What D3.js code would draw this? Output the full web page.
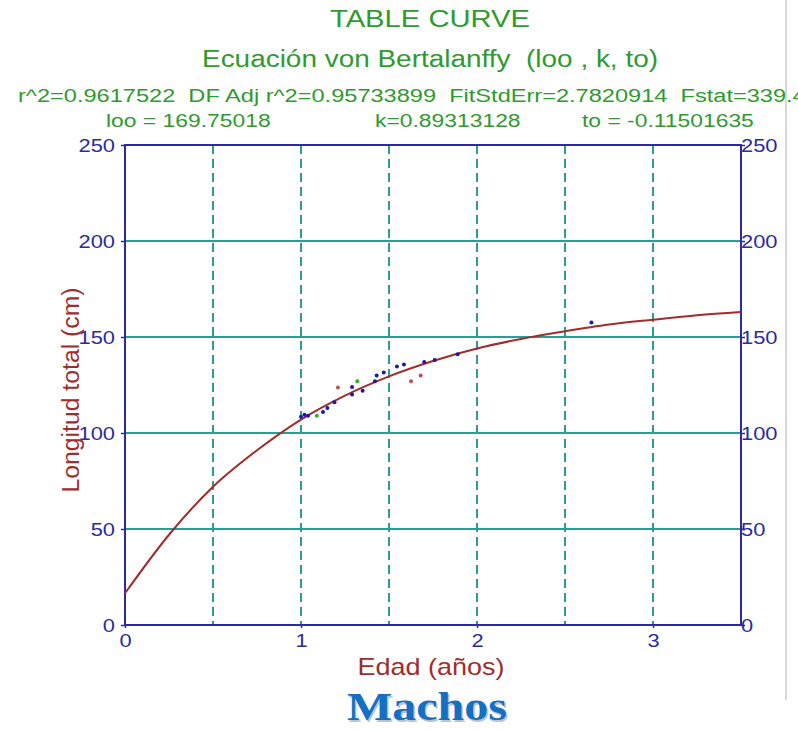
<!DOCTYPE html>
<html>
<head>
<meta charset="utf-8">
<script src="https://cdn.jsdelivr.net/npm/d3@7"></script>
<style>
  body { margin: 0; background: #fff; }
  svg { display: block; font-family: "Liberation Sans", Arial, sans-serif; }
</style>
</head>
<body>
<div id="chart"></div>
<script>
// fitted curve
const curveAge = [0, 0.25, 0.5, 0.75, 1, 1.25, 1.5, 1.75, 2, 2.25, 2.5, 2.75, 3, 3.25, 3.5];
const curveLen = [16.5, 47, 72, 91, 107, 119.5, 129.5, 137.5, 144, 149, 153, 156.5, 159, 161.3, 163];

// observed points
const blueAge = [1.0, 1.02, 1.04, 1.125, 1.15, 1.19, 1.29, 1.29, 1.35, 1.42, 1.43, 1.47, 1.545, 1.585, 1.70, 1.76, 1.89, 2.65];
const blueLen = [108.5, 109.5, 109, 111, 113, 116, 120, 124, 122, 127, 130, 131.5, 134.6, 135.7, 137, 138, 141, 157.6];
const greenAge = [1.09, 1.32];
const greenLen = [109, 127];
const redAge = [1.21, 1.625, 1.68];
const redLen = [123.7, 127, 130];

const xTicks = [0, 1, 2, 3];
const xGrid = [0.5, 1, 1.5, 2, 2.5, 3];
const yTicks = [0, 50, 100, 150, 200, 250];

const titleLines = [
    "TABLE CURVE",
    "Ecuación von Bertalanffy  (loo , k, to)"
];
const statsLine = "r^2=0.9617522  DF Adj r^2=0.95733899  FitStdErr=2.7820914  Fstat=339.45";
const paramLabels = ["loo = 169.75018", "k=0.89313128", "to = -0.11501635"];

let dimensions = {
    width: 798,
    height: 731,
    margin: { top: 145, right: 57, bottom: 106, left: 125 },
};
dimensions.boundedWidth = dimensions.width - dimensions.margin.left - dimensions.margin.right;
dimensions.boundedHeight = dimensions.height - dimensions.margin.top - dimensions.margin.bottom;

const navy = "#2b2b9e";
const teal = "#2a9d96";
const green = "#2f9a2f";
const darkRed = "#a02c2c";

// widen text horizontally, the reference font is a bit stretched
function stretch(sel, factor) {
    sel.each(function () {
        const w = this.getComputedTextLength();
        d3.select(this)
            .attr("textLength", w * factor)
            .attr("lengthAdjust", "spacingAndGlyphs");
    });
}

const root = d3.select("#chart")
    .append("svg")
    .attr("width", dimensions.width)
    .attr("height", dimensions.height);

// faint frame line on the right
root.append("line")
    .attr("x1", 786).attr("x2", 786)
    .attr("y1", 0).attr("y2", 700)
    .attr("stroke", "#d8d8d8")
    .attr("stroke-width", 2);

const svg = root.append("g")
    .attr("transform", `translate(${dimensions.margin.left}, ${dimensions.margin.top})`);

const x = d3.scaleLinear()
    .domain([0, 3.5])
    .range([0, dimensions.boundedWidth]);
const y = d3.scaleLinear()
    .domain([0, 250])
    .range([dimensions.boundedHeight, 0]);

// grid
svg.append("g")
    .selectAll("line")
    .data(yTicks.filter(d => d > 0 && d < 250))
    .join("line")
    .attr("x1", 0).attr("x2", dimensions.boundedWidth)
    .attr("y1", d => y(d)).attr("y2", d => y(d))
    .attr("stroke", teal)
    .attr("stroke-width", 2);

svg.append("g")
    .selectAll("line")
    .data(xGrid)
    .join("line")
    .attr("x1", d => x(d)).attr("x2", d => x(d))
    .attr("y1", 0).attr("y2", dimensions.boundedHeight)
    .attr("stroke", teal)
    .attr("stroke-width", 2)
    .attr("stroke-dasharray", "9,5");

// axes
const styleAxis = g => {
    g.select(".domain").remove();
    g.selectAll(".tick line").attr("stroke", navy).attr("stroke-width", 1.5);
    g.selectAll(".tick text")
        .attr("fill", navy)
        .style("font-size", "19px")
        .style("font-family", "Liberation Sans, Arial, sans-serif")
        .call(stretch, 1.15);
};

svg.append("g")
    .call(d3.axisLeft(y).tickValues(yTicks).tickSize(4).tickPadding(6))
    .call(styleAxis);
svg.append("g")
    .attr("transform", `translate(${dimensions.boundedWidth}, 0)`)
    .call(d3.axisRight(y).tickValues(yTicks).tickSize(4).tickPadding(-4))
    .call(styleAxis);
svg.append("g")
    .attr("transform", `translate(0, ${dimensions.boundedHeight})`)
    .call(d3.axisBottom(x).tickValues(xTicks).tickFormat(d3.format("d")).tickSize(3).tickPadding(6))
    .call(styleAxis);

// box
svg.append("rect")
    .attr("width", dimensions.boundedWidth)
    .attr("height", dimensions.boundedHeight)
    .attr("fill", "none")
    .attr("stroke", navy)
    .attr("stroke-width", 2);

// fitted curve
const curveData = curveAge.map((a, i) => ({ age: a, len: curveLen[i] }));
svg.append("path")
    .datum(curveData)
    .attr("fill", "none")
    .attr("stroke", darkRed)
    .attr("stroke-width", 2)
    .attr("d", d3.line().x(d => x(d.age)).y(d => y(d.len)).curve(d3.curveMonotoneX));

// points
const addDots = (ages, lens, color) => {
    svg.append("g")
        .selectAll("circle")
        .data(ages.map((a, i) => ({ age: a, len: lens[i] })))
        .join("circle")
        .attr("cx", d => x(d.age))
        .attr("cy", d => y(d.len))
        .attr("r", 2)
        .style("fill", color);
};
addDots(blueAge, blueLen, "#1a1aa8");
addDots(greenAge, greenLen, "#2fb02f");
addDots(redAge, redLen, "#c0504d");

// axis titles
root.append("text")
    .attr("x", 431)
    .attr("y", 675)
    .attr("text-anchor", "middle")
    .attr("fill", darkRed)
    .style("font-size", "24px")
    .attr("textLength", 147)
    .attr("lengthAdjust", "spacingAndGlyphs")
    .text("Edad (años)");

root.append("text")
    .attr("transform", "translate(79, 390) rotate(-90)")
    .attr("text-anchor", "middle")
    .attr("fill", darkRed)
    .style("font-size", "23px")
    .attr("textLength", 205)
    .attr("lengthAdjust", "spacingAndGlyphs")
    .text("Longitud total (cm)");

// header texts
root.append("text")
    .attr("x", 430).attr("y", 27)
    .attr("text-anchor", "middle")
    .attr("fill", green)
    .style("font-size", "24px")
    .attr("textLength", 200)
    .attr("lengthAdjust", "spacingAndGlyphs")
    .text(titleLines[0]);
root.append("text")
    .attr("x", 430).attr("y", 67)
    .attr("text-anchor", "middle")
    .attr("fill", green)
    .style("font-size", "23px")
    .style("white-space", "pre")
    .attr("textLength", 456)
    .attr("lengthAdjust", "spacingAndGlyphs")
    .text(titleLines[1]);
root.append("text")
    .attr("x", 18).attr("y", 102)
    .attr("fill", green)
    .style("font-size", "18px")
    .style("white-space", "pre")
    .text(statsLine)
    .call(stretch, 1.31);

const paramX = [106, 375, 582];
root.selectAll(".param")
    .data(paramLabels)
    .join("text")
    .attr("class", "param")
    .attr("x", (d, i) => paramX[i])
    .attr("y", 127)
    .attr("fill", green)
    .style("font-size", "18px")
    .text(d => d)
    .call(stretch, 1.27);

// footer with a soft shadow
const footer = (dx, dy, color) => root.append("text")
    .attr("x", 427 + dx).attr("y", 720 + dy)
    .attr("text-anchor", "middle")
    .attr("fill", color)
    .style("font-family", "Liberation Serif, Times New Roman, serif")
    .style("font-weight", "bold")
    .style("font-size", "39px")
    .attr("textLength", 160)
    .attr("lengthAdjust", "spacingAndGlyphs")
    .text("Machos");
footer(1.5, 1.5, "#b8c4d0");
footer(0, 0, "#1570c4");
</script>
</body>
</html>
